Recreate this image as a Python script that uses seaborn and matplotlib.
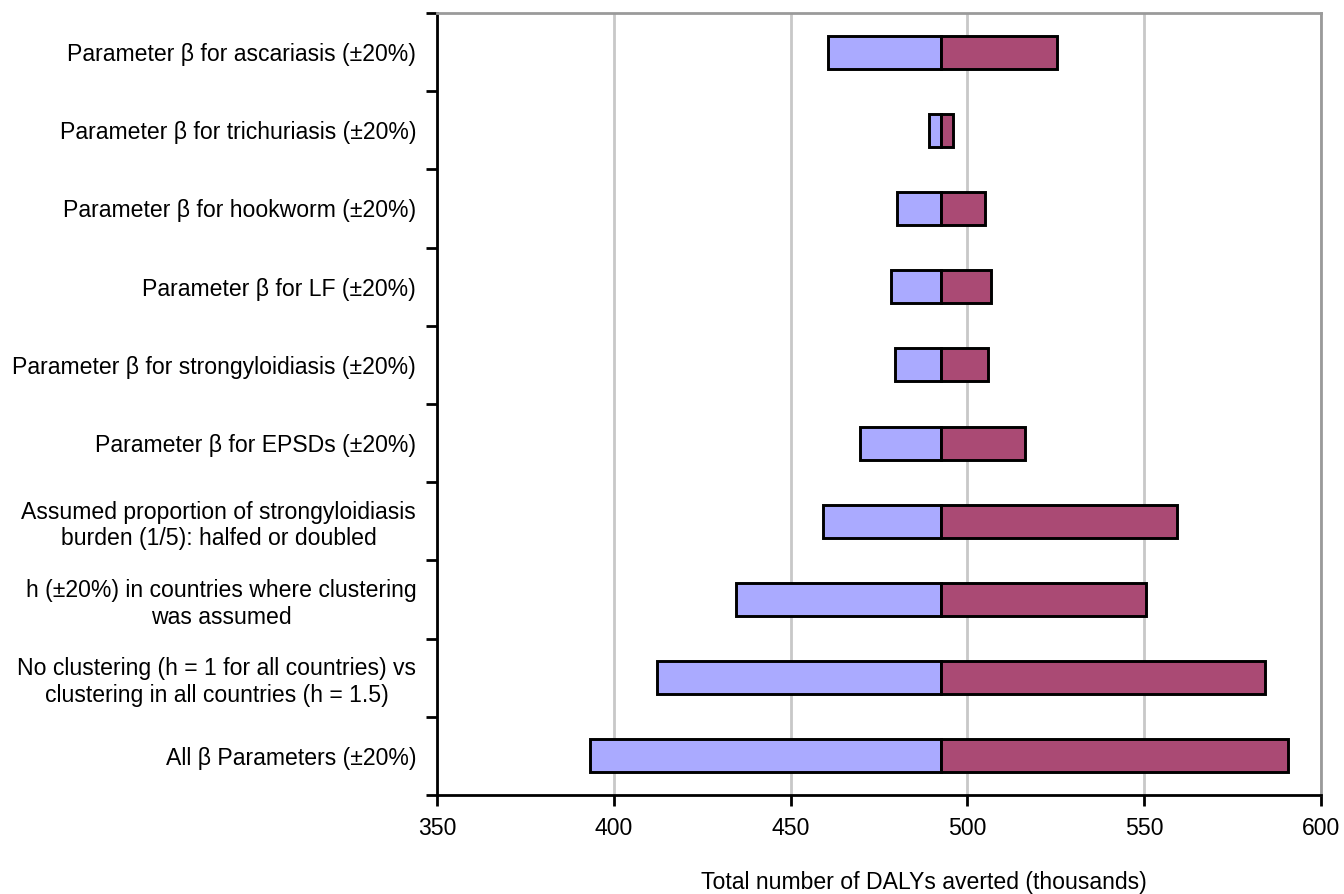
import numpy as np
import matplotlib
matplotlib.use("Agg")
import matplotlib.pyplot as plt
import seaborn as sns

# one-way sensitivity analysis, DALYs averted (thousands)
labels = [
    "Parameter \u03b2 for ascariasis (\u00b120%)",
    "Parameter \u03b2 for trichuriasis (\u00b120%)",
    "Parameter \u03b2 for hookworm (\u00b120%)",
    "Parameter \u03b2 for LF (\u00b120%)",
    "Parameter \u03b2 for strongyloidiasis (\u00b120%)",
    "Parameter \u03b2 for EPSDs (\u00b120%)",
    "Assumed proportion of strongyloidiasis\nburden (1/5): halfed or doubled",
    "h (\u00b120%) in countries where clustering\nwas assumed",
    "No clustering (h = 1 for all countries) vs\nclustering in all countries (h = 1.5)",
    "All \u03b2 Parameters (\u00b120%)",
]
base = 492.5
low = [460.5, 489.2, 480.1, 478.5, 479.4, 469.5, 459.2, 434.7, 412.3, 393.4]
high = [525.4, 496.0, 505.1, 506.7, 505.9, 516.4, 559.4, 550.4, 584.3, 590.7]

low_color = "#aaaaff"
high_color = "#aa4a74"
fs = 16.6

sns.set_theme(style="white")
plt.rcParams["font.family"] = ["Liberation Sans", "DejaVu Sans"]
plt.rcParams["text.color"] = "black"
plt.rcParams["xtick.color"] = "black"
plt.rcParams["ytick.color"] = "black"
plt.rcParams["axes.labelcolor"] = "black"

fig = plt.figure(figsize=(13.44, 8.94), dpi=100)
ax = fig.add_axes([437 / 1344, 1 - 795 / 894, (1321 - 437) / 1344, (795 - 13) / 894])

ax.grid(axis="x", color="#c8c8c8", lw=2)
ax.set_axisbelow(True)

d_low = np.array(low) - base
d_high = np.array(high) - base
sns.barplot(x=d_low, y=labels, left=base, color=low_color, saturation=1,
            width=0.42, edgecolor="black", linewidth=2.1, ax=ax)
sns.barplot(x=d_high, y=labels, left=base, color=high_color, saturation=1,
            width=0.42, edgecolor="black", linewidth=2.1, ax=ax)

ax.set_xlim(350, 600)
ax.set_ylim(len(labels) - 0.5, -0.5)
ax.set_xticks(np.arange(350, 601, 50))

# category boundary ticks on the y axis
ax.set_yticks(np.arange(-0.5, len(labels)), minor=True)
ax.tick_params(axis="y", which="major", length=0, pad=15, labelsize=fs)
ax.tick_params(axis="y", which="minor", left=True, length=8, width=2, color="black")
ax.tick_params(axis="x", bottom=True, length=8, width=2, color="black",
               pad=8, labelsize=fs)
for t in ax.get_yticklabels():
    t.set_multialignment("center")

ax.set_xlabel("Total number of DALYs averted (thousands)", fontsize=fs)
ax.xaxis.set_label_coords(0.551, -0.097)
ax.set_ylabel("")

for side in ["left", "bottom"]:
    ax.spines[side].set_color("black")
    ax.spines[side].set_linewidth(2)
for side in ["top", "right"]:
    ax.spines[side].set_color("#9a9a9a")
    ax.spines[side].set_linewidth(2)

fig.savefig("out.png", dpi=100)
